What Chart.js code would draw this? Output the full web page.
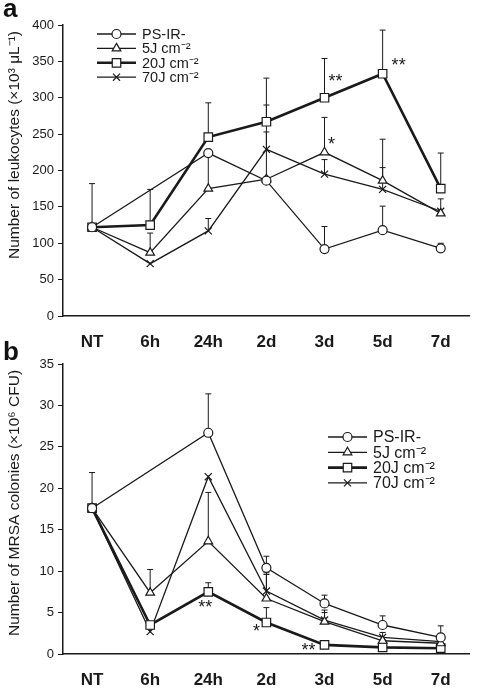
<!DOCTYPE html>
<html><head><meta charset="utf-8">
<script src="https://cdn.jsdelivr.net/npm/chart.js@4/dist/chart.umd.min.js"></script>
<style>
html,body{margin:0;padding:0;background:#fff;}
#wrap{position:relative;width:477px;height:692px;overflow:hidden;font-family:'Liberation Sans',Arial,sans-serif;}
canvas{position:absolute;left:0;}
.panel{position:absolute;font-weight:bold;font-size:26px;color:#111;line-height:1;}
</style></head>
<body><div id="wrap">
<canvas id="cb" width="477" height="346" style="top:346px"></canvas>
<canvas id="ca" width="477" height="360" style="top:0"></canvas>
<div class="panel" style="left:3px;top:-5px">a</div>
<div class="panel" style="left:3px;top:338px">b</div>
</div>
<script>
const categories = ['NT','6h','24h','2d','3d','5d','7d'];
const seriesNames = ['PS-IR-','5J cm\u207B\u00B2','20J cm\u207B\u00B2','70J cm\u207B\u00B2'];

// Panel a: leukocytes (x10^3 /uL)
const leukoPS   = [122, null, 224, 186, 92, 118, 93];
const leukoPSErr= [182, null, null, null, 123, 151, 100];
const leuko5J   = [122, 87, 175, 188, 225, 186, 141];
const leuko5JErr= [null, 114, 225, 290, 273, 243, null];
const leuko20J  = [122, 125, 246, 267, 300, 333, 175];
const leuko20JErr=[null, 174, 293, 327, 354, 393, 224];
const leuko70J  = [122, 72, 117, 229, 195, 174, 144];
const leuko70JErr=[null, null, 134, 253, 215, 204, 161];
const leukoTicks = {min:0, max:400, step:50};

// Panel b: MRSA colonies (x10^6 CFU)
const mrsaPS    = [17.6, null, 26.7, 10.4, 6.1, 3.5, 2.0];
const mrsaPSErr = [21.9, null, 31.4, 11.8, 7.1, 4.6, 3.4];
const mrsa5J    = [17.6, 7.4, 13.6, 6.7, 3.9, 1.6, 1.3];
const mrsa5JErr = [null, 10.2, 19.5, 9.6, 5.3, 2.6, null];
const mrsa20J   = [17.6, 3.5, 7.5, 3.8, 1.1, 0.8, 0.7];
const mrsa20JErr= [null, null, 8.6, 5.6, null, null, null];
const mrsa70J   = [17.6, 2.7, 21.4, 7.6, 4.1, 2.0, 1.5];
const mrsa70JErr= [null, null, null, 9.8, 5.0, null, null];
const mrsaTicks = {min:0, max:35, step:5};

// significance marks: [datasetIndex, categoryIndex, text]
const leukoStars = [[2,4,'**'],[2,5,'**'],[1,4,'*']];
const mrsaStars  = [[2,2,'**'],[2,3,'*'],[2,4,'**']];

const INK = '#1a1a1a';
const FONT = "'Liberation Sans', Arial, sans-serif";
const styles = [
  {pointStyle:'circle', radius:4.5, width:1.3},
  {pointStyle:'triangle', radius:5, width:1.3},
  {pointStyle:'rect', radius:6, width:2.6},
  {pointStyle:'crossRot', radius:5, width:1.3}
];

function ds(i, data, err){
  const s = styles[i];
  return {label:seriesNames[i], data, errUpper:err, borderColor:INK, backgroundColor:'#fff',
    borderWidth:s.width, pointStyle:s.pointStyle, pointRadius:s.radius, pointHoverRadius:s.radius,
    pointBorderColor:INK, pointBackgroundColor:'#fff', pointBorderWidth:1.2, tension:0, spanGaps:true};
}

const errorBars = {
  id:'errorBars',
  beforeDatasetsDraw(chart){
    const ctx = chart.ctx, y = chart.scales.y;
    ctx.save(); ctx.strokeStyle = INK; ctx.lineWidth = 1;
    chart.data.datasets.forEach((d,i)=>{
      const meta = chart.getDatasetMeta(i);
      (d.errUpper||[]).forEach((e,j)=>{
        if(e==null || d.data[j]==null) return;
        const p = meta.data[j]; const yt = y.getPixelForValue(e);
        ctx.beginPath(); ctx.moveTo(p.x, p.y); ctx.lineTo(p.x, yt);
        ctx.moveTo(p.x-3, yt); ctx.lineTo(p.x+3, yt); ctx.stroke();
      });
    });
    ctx.restore();
  }
};

function starsPlugin(list, offsets){
  return {id:'stars', afterDatasetsDraw(chart){
    const ctx = chart.ctx; ctx.save(); ctx.fillStyle = INK;
    ctx.font = "18px " + FONT; ctx.textAlign='center'; ctx.textBaseline='middle';
    list.forEach((s,k)=>{
      const p = chart.getDatasetMeta(s[0]).data[s[1]];
      ctx.fillText(s[2], p.x + offsets[k][0], p.y + offsets[k][1]);
    });
    ctx.restore();
  }};
}

function legendPlugin(x0, y0, fs, gap){
  return {id:'customLegend', afterDraw(chart){
    const ctx = chart.ctx; ctx.save();
    chart.data.datasets.forEach((d,i)=>{
      const y = y0 + i*gap;
      ctx.strokeStyle = INK; ctx.lineWidth = d.borderWidth;
      ctx.beginPath(); ctx.moveTo(x0, y); ctx.lineTo(x0+39, y); ctx.stroke();
      ctx.fillStyle = '#fff'; ctx.lineWidth = 1.2;
      Chart.helpers.drawPoint(ctx, {pointStyle:d.pointStyle, radius:d.pointRadius, borderWidth:1.2, rotation:0}, x0+19.5, y);
      ctx.fillStyle = INK; ctx.font = fs + "px " + FONT; ctx.textBaseline='middle'; ctx.textAlign='left';
      ctx.fillText(d.label, x0+45, y+1);
    });
    ctx.restore();
  }};
}

function titlePlugin(text, cx, cy){
  return {id:'yTitle', afterDraw(chart){
    const ctx = chart.ctx; ctx.save();
    ctx.translate(cx, cy); ctx.rotate(-Math.PI/2);
    ctx.fillStyle = INK; ctx.font = "15.5px " + FONT; ctx.textAlign='center'; ctx.textBaseline='middle';
    ctx.fillText(text, 0, 0); ctx.restore();
  }};
}

function makeChart(id, sets, ticks, title, titleY, padTop, xHeight, stars, starOff, legX, legY, legFs, legGap){
  return new Chart(document.getElementById(id), {
    type:'line',
    data:{labels:categories, datasets:sets},
    options:{
      responsive:false, animation:false, events:[],
      layout:{padding:{top:padTop, right:7, bottom:0, left:0}},
      plugins:{legend:{display:false}, tooltip:{enabled:false}},
      scales:{
        x:{type:'category', offset:true,
          grid:{display:false}, border:{display:true, color:INK, width:1.5},
          ticks:{color:INK, padding:8, font:{family:FONT, size:17, weight:'bold'}},
          afterFit(s){ s.height = xHeight; }},
        y:{min:ticks.min, max:ticks.max,
          grid:{display:true, drawOnChartArea:false, drawTicks:true, tickLength:5, color:INK},
          border:{display:true, color:INK, width:1.5},
          ticks:{stepSize:ticks.step, color:INK, padding:4, font:{family:FONT, size:13}},
          title:{display:false},
          afterFit(s){ s.width = 63; }}
      }
    },
    plugins:[errorBars, starsPlugin(stars, starOff), legendPlugin(legX, legY, legFs, legGap), titlePlugin(title, 15, titleY)]
  });
}

makeChart('ca', [ds(0,leukoPS,leukoPSErr), ds(1,leuko5J,leuko5JErr), ds(2,leuko20J,leuko20JErr), ds(3,leuko70J,leuko70JErr)],
  leukoTicks, 'Number of leukocytes (\u00D710\u00B3 \u03BCL\u207B\u00B9)', 145, 25, 44,
  leukoStars, [[11,-16],[16,-8],[7,-7]], 97, 34, 14.5, 14.4);

makeChart('cb', [ds(0,mrsaPS,mrsaPSErr), ds(1,mrsa5J,mrsa5JErr), ds(2,mrsa20J,mrsa20JErr), ds(3,mrsa70J,mrsa70JErr)],
  mrsaTicks, 'Number of MRSA colonies (\u00D710\u2076 CFU)', 157, 18, 38,
  mrsaStars, [[-3,16],[-10,10],[-16,6]], 328, 91, 16, 15.3);
</script>
</body></html>
